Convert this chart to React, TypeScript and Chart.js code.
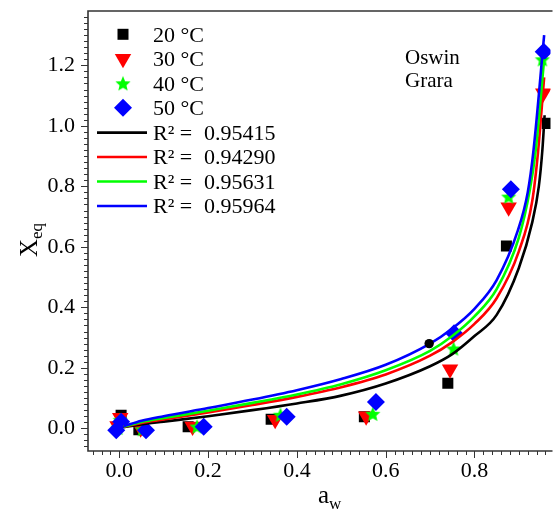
import React, { useEffect, useRef } from 'react';
import { Chart, registerables } from 'chart.js';

Chart.register(...registerables);

// ---------- data ----------
const seriesNames = ['20 °C', '30 °C', '40 °C', '50 °C'];
const seriesColors = ['#000000', '#ff0000', '#00ff00', '#0000ff'];
const r2Values = ['0.95415', '0.94290', '0.95631', '0.95964'];
const modelNames = ['Oswin', 'Grara'];

const aw20 = [0.004, 0.044, 0.155, 0.342, 0.552, 0.740, 0.872, 0.964];
const xeq20 = [0.043, -0.005, 0.005, 0.030, 0.038, 0.149, 0.603, 1.008];
const aw30 = [0.002, -0.004, 0.048, 0.165, 0.351, 0.556, 0.745, 0.877, 0.955];
const xeq30 = [0.035, 0.008, 0.000, 0.006, 0.028, 0.040, 0.195, 0.731, 1.108];
const aw40 = [0.002, -0.003, 0.052, 0.175, 0.363, 0.571, 0.753, 0.877, 0.953];
const xeq40 = [0.028, 0.002, -0.003, 0.006, 0.045, 0.048, 0.264, 0.766, 1.220];
const aw50 = [0.004, -0.007, 0.060, 0.190, 0.377, 0.578, 0.754, 0.882, 0.956];
const xeq50 = [0.022, -0.006, -0.006, 0.005, 0.038, 0.087, 0.314, 0.790, 1.245];

const dotAw = [0.698];
const dotXeq = [0.28];

const fitAw20 = [0.01, 0.05, 0.1, 0.2, 0.3, 0.4, 0.5, 0.6, 0.7, 0.75, 0.8, 0.85, 0.9, 0.93, 0.945, 0.953, 0.958];
const fitXeq20 = [0.004, 0.013, 0.022, 0.040, 0.060, 0.082, 0.108, 0.148, 0.205, 0.245, 0.305, 0.375, 0.530, 0.680, 0.800, 0.920, 1.035];
const fitAw30 = [0.01, 0.05, 0.1, 0.2, 0.3, 0.4, 0.5, 0.6, 0.7, 0.75, 0.8, 0.85, 0.9, 0.93, 0.943, 0.957];
const fitXeq30 = [0.005, 0.018, 0.029, 0.052, 0.077, 0.104, 0.136, 0.178, 0.240, 0.285, 0.345, 0.430, 0.585, 0.750, 0.910, 1.160];
const fitAw40 = [0.01, 0.05, 0.1, 0.2, 0.3, 0.4, 0.5, 0.6, 0.7, 0.75, 0.8, 0.85, 0.9, 0.925, 0.938, 0.957];
const fitXeq40 = [0.006, 0.021, 0.034, 0.058, 0.084, 0.112, 0.146, 0.192, 0.256, 0.305, 0.370, 0.460, 0.630, 0.790, 0.919, 1.220];
const fitAw50 = [0.01, 0.05, 0.1, 0.2, 0.3, 0.4, 0.5, 0.6, 0.7, 0.75, 0.8, 0.85, 0.898, 0.92, 0.933, 0.957];
const fitXeq50 = [0.007, 0.025, 0.040, 0.067, 0.095, 0.126, 0.163, 0.210, 0.280, 0.330, 0.395, 0.490, 0.655, 0.780, 0.919, 1.300];

const X_MIN = -0.0706;
const X_MAX = 0.9713;
const Y_MIN = -0.075;
const Y_MAX = 1.3795;
const MINOR_STEP = 0.02;
const MAJOR_STEP = 0.2;

const FONT = '"Liberation Serif", "Times New Roman", serif';

const pts = (xs: number[], ys: number[]) => xs.map((x, i) => ({ x, y: ys[i] }));
const isMajor = (v: number) => Math.abs(v / MAJOR_STEP - Math.round(v / MAJOR_STEP)) < 1e-6;

function makeStar(color: string, outer: number, inner: number): HTMLCanvasElement {
  const size = Math.ceil(outer * 2 + 2);
  const c = document.createElement('canvas');
  c.width = size;
  c.height = size;
  const g = c.getContext('2d')!;
  const cx = size / 2;
  const cy = size / 2 + outer * 0.1;
  g.beginPath();
  for (let i = 0; i < 10; i++) {
    const r = i % 2 === 0 ? outer : inner;
    const a = -Math.PI / 2 + (i * Math.PI) / 5;
    const x = cx + r * Math.cos(a);
    const y = cy + r * Math.sin(a);
    if (i === 0) g.moveTo(x, y);
    else g.lineTo(x, y);
  }
  g.closePath();
  g.fillStyle = color;
  g.fill();
  return c;
}

function drawLegendMarker(ctx: CanvasRenderingContext2D, idx: number, x: number, y: number, star: HTMLCanvasElement) {
  ctx.fillStyle = seriesColors[idx];
  ctx.beginPath();
  if (idx === 0) {
    ctx.rect(x - 5.5, y - 5.5, 11, 11);
  } else if (idx === 1) {
    const r = 9.5;
    ctx.moveTo(x, y + r);
    ctx.lineTo(x - r * 0.866, y - r * 0.5);
    ctx.lineTo(x + r * 0.866, y - r * 0.5);
    ctx.closePath();
  } else if (idx === 2) {
    ctx.drawImage(star, x - star.width / 2, y - star.height / 2);
    return;
  } else {
    const r = 9;
    ctx.moveTo(x, y - r);
    ctx.lineTo(x + r, y);
    ctx.lineTo(x, y + r);
    ctx.lineTo(x - r, y);
    ctx.closePath();
  }
  ctx.fill();
}

export default function App() {
  const ref = useRef<HTMLCanvasElement | null>(null);

  useEffect(() => {
    if (!ref.current) return;
    const star = makeStar('#00ff00', 8, 3.6);

    const decor = {
      id: 'decor',
      afterDraw(chart: any) {
        const ctx: CanvasRenderingContext2D = chart.ctx;
        const { left, right, top, bottom } = chart.chartArea;
        const xs = chart.scales.x;
        const ys = chart.scales.y;
        ctx.save();
        // frame
        ctx.strokeStyle = '#333333';
        ctx.lineWidth = 1.6;
        ctx.beginPath();
        ctx.moveTo(right + 2, top);
        ctx.lineTo(left, top);
        ctx.lineTo(left, bottom);
        ctx.lineTo(right + 2, bottom);
        ctx.stroke();
        // ticks
        ctx.lineWidth = 1;
        ctx.beginPath();
        xs.ticks.forEach((t: any) => {
          const p = xs.getPixelForValue(t.value);
          if (p < left - 0.5 || p > right + 0.5) return;
          const len = isMajor(t.value) ? 7 : 4;
          const px = Math.round(p) + 0.5;
          ctx.moveTo(px, bottom);
          ctx.lineTo(px, bottom + len);
        });
        ys.ticks.forEach((t: any) => {
          const p = ys.getPixelForValue(t.value);
          if (p < top - 0.5 || p > bottom + 0.5) return;
          const len = isMajor(t.value) ? 7 : 4;
          const py = Math.round(p) + 0.5;
          ctx.moveTo(left, py);
          ctx.lineTo(left - len, py);
        });
        ctx.stroke();

        ctx.fillStyle = '#000';
        ctx.textAlign = 'left';
        ctx.textBaseline = 'alphabetic';
        // x title
        ctx.font = `25px ${FONT}`;
        const aW = ctx.measureText('a').width;
        ctx.fillText('a', 318, 503);
        ctx.font = `17px ${FONT}`;
        ctx.fillText('w', 318 + aW, 509);
        // y title
        ctx.save();
        ctx.translate(37, 257);
        ctx.rotate(-Math.PI / 2);
        ctx.font = `25px ${FONT}`;
        const xW = ctx.measureText('X').width;
        ctx.fillText('X', 0, 0);
        ctx.font = `17px ${FONT}`;
        ctx.fillText('eq', xW, 5);
        ctx.restore();

        // legend
        const rowY = [34.3, 58.8, 83.3, 107.8, 132.6, 157, 181.5, 206];
        ctx.font = `22px ${FONT}`;
        for (let i = 0; i < 4; i++) {
          drawLegendMarker(ctx, i, 123, rowY[i], star);
          ctx.fillStyle = '#000';
          ctx.fillText(seriesNames[i], 153, rowY[i] + 7.5);
        }
        for (let i = 0; i < 4; i++) {
          const y = rowY[4 + i];
          ctx.strokeStyle = seriesColors[i];
          ctx.lineWidth = 2.6;
          ctx.beginPath();
          ctx.moveTo(97, y);
          ctx.lineTo(147, y);
          ctx.stroke();
          ctx.fillStyle = '#000';
          ctx.font = `22px ${FONT}`;
          ctx.fillText('R² =', 153, y + 7);
          ctx.fillText(r2Values[i], 204, y + 7);
        }
        // model names
        ctx.font = `21px ${FONT}`;
        ctx.fillText(modelNames[0], 405, 63.5);
        ctx.fillText(modelNames[1], 405, 87);
        ctx.restore();
      },
    };

    const markerSets = [
      { data: pts(aw20, xeq20), pointStyle: 'rect', pointRadius: 7.8, pointRotation: 0, order: 14 },
      { data: pts(aw30, xeq30), pointStyle: 'triangle', pointRadius: 9.5, pointRotation: 180, order: 13 },
      { data: pts(aw40, xeq40), pointStyle: star, pointRadius: 8, pointRotation: 0, order: 12 },
      { data: pts(aw50, xeq50), pointStyle: 'rectRot', pointRadius: 9, pointRotation: 0, order: 11 },
    ].map((d, i) => ({
      type: 'scatter' as const,
      label: seriesNames[i],
      data: d.data,
      pointStyle: d.pointStyle as any,
      pointRadius: d.pointRadius,
      pointRotation: d.pointRotation,
      pointBackgroundColor: seriesColors[i],
      pointBorderColor: seriesColors[i],
      pointBorderWidth: 0,
      showLine: false,
      order: d.order,
    }));

    const fits = [
      pts(fitAw20, fitXeq20),
      pts(fitAw30, fitXeq30),
      pts(fitAw40, fitXeq40),
      pts(fitAw50, fitXeq50),
    ].map((data, i) => ({
      type: 'line' as const,
      label: 'R² = ' + r2Values[i],
      data,
      borderColor: seriesColors[i],
      borderWidth: 2.6,
      pointRadius: 0,
      fill: false,
      cubicInterpolationMode: 'monotone' as const,
      order: 4 - i,
    }));

    const dot = {
      type: 'scatter' as const,
      label: 'dot',
      data: pts(dotAw, dotXeq),
      pointStyle: 'circle' as const,
      pointRadius: 4.7,
      pointBackgroundColor: '#000',
      pointBorderWidth: 0,
      order: 0,
    };

    const tickFont = { family: 'Liberation Serif', size: 22 };
    const cb = (v: any) => (isMajor(Number(v)) ? Number(v).toFixed(1) : '');

    const chart = new Chart(ref.current, {
      type: 'scatter',
      data: { datasets: [...markerSets, ...fits, dot] as any },
      options: {
        animation: false,
        responsive: false,
        events: [],
        layout: { padding: { top: 11, left: 0, right: 0, bottom: 0 } },
        plugins: { legend: { display: false }, tooltip: { enabled: false } },
        scales: {
          x: {
            type: 'linear',
            min: X_MIN,
            max: X_MAX,
            afterFit: (s: any) => {
              s.height = 64;
              s.paddingLeft = 0;
              s.paddingRight = 0;
            },
            grid: { display: false, drawTicks: false },
            border: { display: false },
            ticks: {
              stepSize: MINOR_STEP,
              autoSkip: false,
              includeBounds: false,
              maxRotation: 0,
              minRotation: 0,
              padding: 7,
              color: '#000',
              font: tickFont,
              callback: cb,
            },
          },
          y: {
            type: 'linear',
            min: Y_MIN,
            max: Y_MAX,
            afterFit: (s: any) => {
              s.width = 88;
              s.paddingTop = 0;
              s.paddingBottom = 0;
            },
            grid: { display: false, drawTicks: false },
            border: { display: false },
            ticks: {
              stepSize: MINOR_STEP,
              autoSkip: false,
              includeBounds: false,
              padding: 13,
              color: '#000',
              font: tickFont,
              callback: cb,
            },
          },
        },
      } as any,
      plugins: [decor],
    });
    return () => chart.destroy();
  }, []);

  return (
    <div style={{ position: 'absolute', left: 0, top: 0, width: 560, height: 515, background: '#fff' }}>
      <canvas ref={ref} width={560} height={515} style={{ width: 560, height: 515, display: 'block' }} />
    </div>
  );
}
